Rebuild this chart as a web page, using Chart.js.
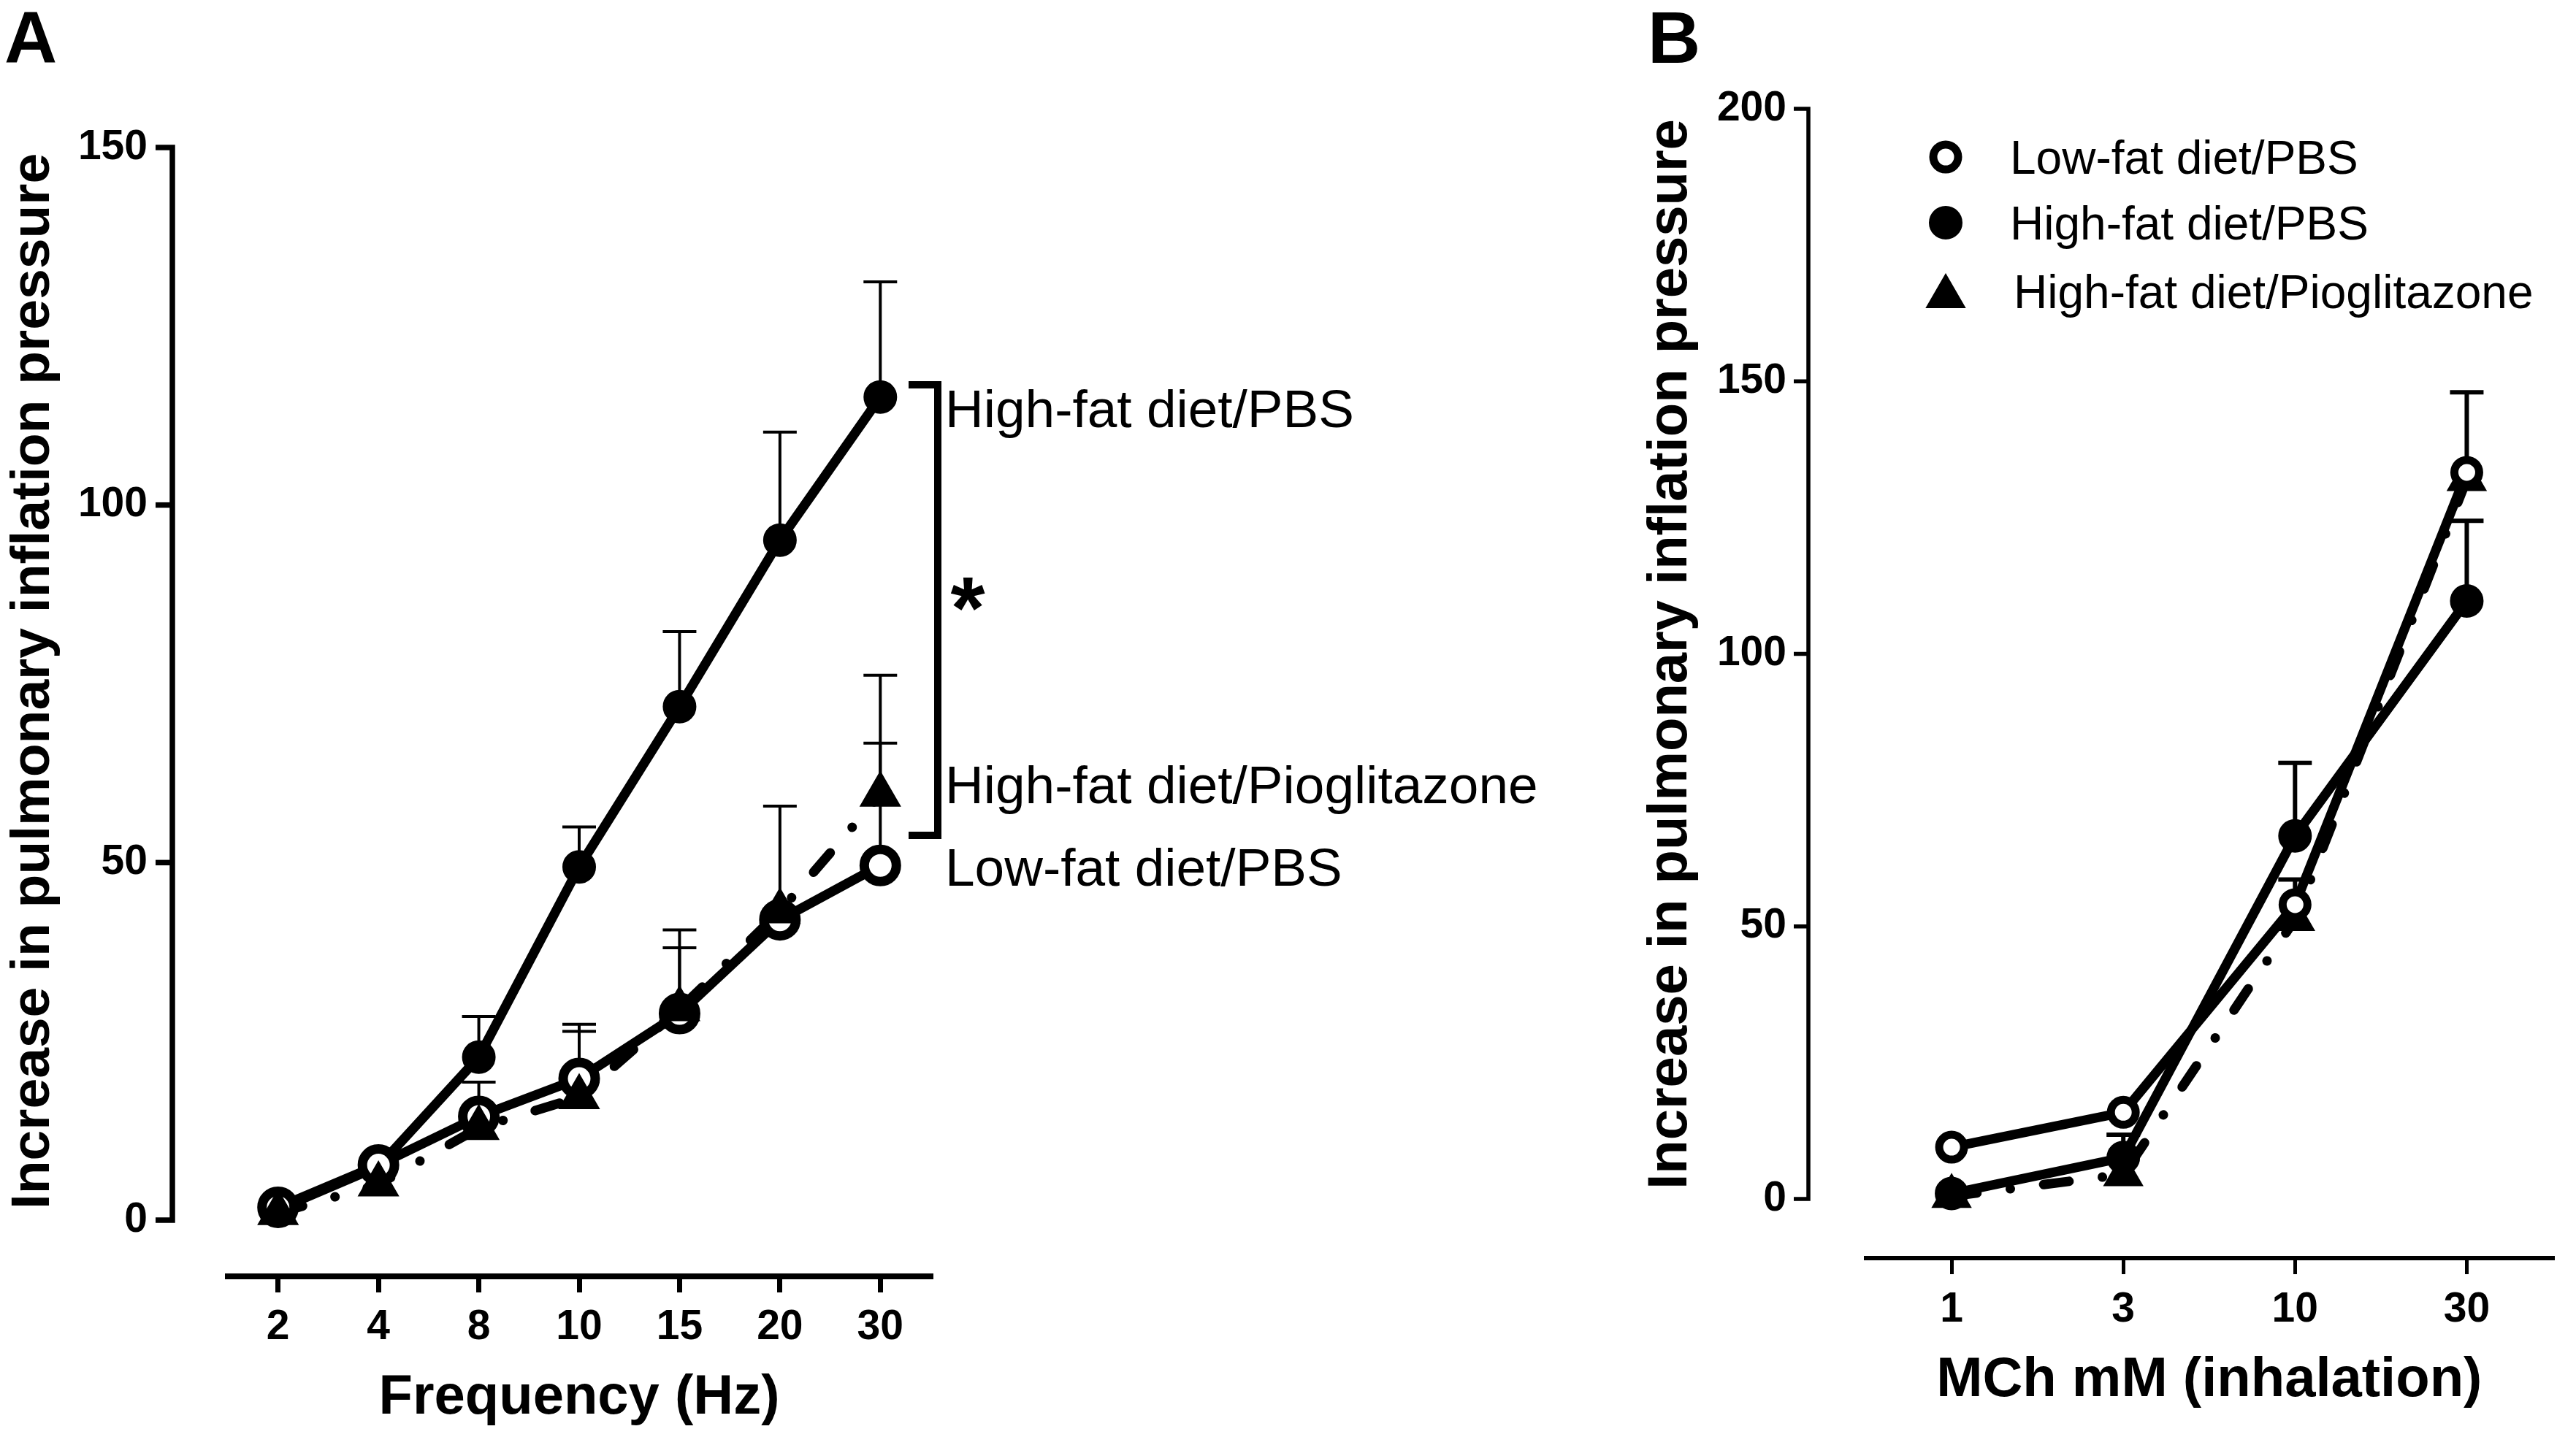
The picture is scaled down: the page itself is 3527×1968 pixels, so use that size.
<!DOCTYPE html>
<html><head><meta charset="utf-8">
<script src="https://cdn.jsdelivr.net/npm/chart.js@4/dist/chart.umd.min.js"></script>
<style>
html,body{margin:0;padding:0;background:#fff;width:3527px;height:1968px;overflow:hidden}
#ca{position:absolute;left:0;top:0}
#cb{position:absolute;left:2150px;top:0}
</style></head><body>
<canvas id="ca" width="2150" height="1968"></canvas>
<canvas id="cb" width="1377" height="1968"></canvas>
<script>
// ---------- DATA ----------
// Panel A: frequency response
const freqLabels = ['2', '4', '8', '10', '15', '20', '30'];
const aLowFat    = [1.8, 7.7, 14.5, 19.8, 28.9, 42.0, 49.6];
const aHighFat   = [1.5, 7.5, 22.8, 49.4, 71.8, 95.1, 115.1];
const aPio       = [1.0, 5.0, 12.9, 17.2, 29.5, 43.2, 59.5];
const aLowFatSem  = [null, null, 4.8, 7.6, 11.7, 15.9, 17.1];
const aHighFatSem = [null, null, 5.7, 5.6, 10.5, 15.1, 16.1];
const aPioSem     = [null, null, null, 9.2, 8.6, null, 16.7];
const aYTicks = [0, 50, 100, 150];

// Panel B: methacholine response
const mchLabels = ['1', '3', '10', '30'];
const bLowFat    = [9.5, 15.9, 54.0, 133.3];
const bHighFat   = [1.0, 7.6, 66.6, 109.7];
const bPio       = [0.5, 4.5, 51.3, 132.0];
const bLowFatSem  = [null, null, 4.6, 14.7];
const bHighFatSem = [null, 4.2, 13.4, 14.7];
const bPioSem     = [null, null, null, null];
const bYTicks = [0, 50, 100, 150, 200];

const seriesNames = ['Low-fat diet/PBS', 'High-fat diet/PBS', 'High-fat diet/Pioglitazone'];
const yTitle = 'Increase in pulmonary inflation pressure';

// ---------- STYLE ----------
Chart.defaults.font.family = "'Liberation Sans', Arial, Helvetica, sans-serif";
Chart.defaults.color = '#000';
const BLACK = '#000';
const FONT = "'Liberation Sans', Arial, Helvetica, sans-serif";
const DASHDOT = [35, 46, 0.1, 46];

function lineSet(label, data, dash, order, lw) {
  return { label, data, showLine: true, borderColor: BLACK, borderWidth: lw,
    borderDash: dash, borderCapStyle: 'round', borderJoinStyle: 'round',
    pointRadius: 0, pointHoverRadius: 0, tension: 0, fill: false, order, clip: false };
}
function pointSet(label, data, st, order) {
  return { label, data, showLine: false, pointStyle: st.shape, pointRadius: st.r,
    pointHoverRadius: st.r, pointBorderWidth: st.bw, pointHoverBorderWidth: st.bw,
    pointBackgroundColor: st.fill, pointBorderColor: BLACK, order, clip: false };
}

function makePlugin(cfg) {
  return {
    id: 'gp' + cfg.name,
    beforeDatasetsDraw(chart) {
      const xs = chart.scales.x, ys = chart.scales.y, ctx = chart.ctx;
      ctx.save();
      ctx.strokeStyle = BLACK; ctx.lineWidth = cfg.errWidth; ctx.lineCap = 'butt';
      cfg.errors.forEach(([mean, sem]) => {
        mean.forEach((m, i) => {
          const e = sem[i]; if (e == null) return;
          const px = xs.getPixelForValue(i);
          const y1 = ys.getPixelForValue(m), y2 = ys.getPixelForValue(m + e);
          ctx.beginPath();
          ctx.moveTo(px, y1); ctx.lineTo(px, y2);
          ctx.moveTo(px - cfg.cap / 2, y2); ctx.lineTo(px + cfg.cap / 2, y2);
          ctx.stroke();
        });
      });
      ctx.restore();
    },
    afterDraw(chart) {
      const ys = chart.scales.y, ctx = chart.ctx;
      ctx.save();
      // y axis (GraphPad style, detached from x axis)
      ctx.strokeStyle = BLACK; ctx.lineWidth = cfg.axisWidth; ctx.lineJoin = 'miter'; ctx.lineCap = 'butt';
      const tks = cfg.yTicks;
      const yTop = ys.getPixelForValue(tks[tks.length - 1]);
      const yBot = ys.getPixelForValue(tks[0]);
      ctx.beginPath();
      ctx.moveTo(cfg.axisX - cfg.tickLen, yTop);
      ctx.lineTo(cfg.axisX, yTop);
      ctx.lineTo(cfg.axisX, yBot);
      ctx.lineTo(cfg.axisX - cfg.tickLen, yBot);
      ctx.stroke();
      tks.slice(1, -1).forEach(v => {
        const py = ys.getPixelForValue(v);
        ctx.beginPath(); ctx.moveTo(cfg.axisX - cfg.tickLen, py); ctx.lineTo(cfg.axisX, py); ctx.stroke();
      });
      // y title
      ctx.fillStyle = BLACK;
      ctx.font = 'bold ' + cfg.yTitleSize + 'px ' + FONT;
      ctx.textAlign = 'center'; ctx.textBaseline = 'alphabetic';
      ctx.translate(cfg.yTitleX, cfg.yTitleY);
      ctx.rotate(-Math.PI / 2);
      ctx.fillText(yTitle, 0, 0);
      ctx.restore();
      // panel letter
      ctx.save();
      ctx.fillStyle = BLACK;
      ctx.font = 'bold 100px ' + FONT;
      ctx.textAlign = 'left'; ctx.textBaseline = 'alphabetic';
      ctx.fillText(cfg.letter, cfg.letterX, 86);
      ctx.restore();
      if (cfg.extra) cfg.extra(chart, ctx);
    }
  };
}

function buildChart(canvas, cfg) {
  const [lf, hf, pio] = cfg.series;
  const o = cfg.order; // drawing order of markers: lower = on top
  return new Chart(canvas, {
    type: 'line',
    data: {
      labels: cfg.labels,
      datasets: [
        pointSet(seriesNames[0], lf, cfg.mk.lf, o.lf),
        pointSet(seriesNames[1], hf, cfg.mk.hf, o.hf),
        pointSet(seriesNames[2], pio, cfg.mk.pio, o.pio),
        lineSet(seriesNames[2], pio, DASHDOT, 3, cfg.lineWidth),
        lineSet(seriesNames[1], hf, [], 4, cfg.lineWidth),
        lineSet(seriesNames[0], lf, [], 5, cfg.lineWidth)
      ]
    },
    options: {
      responsive: false, animation: false, devicePixelRatio: 1,
      events: [],
      layout: { padding: cfg.padding },
      plugins: { legend: { display: false }, tooltip: { enabled: false } },
      scales: {
        x: {
          type: 'category', offset: true,
          afterFit: s => { s.height = cfg.xHeight; },
          grid: { display: true, drawOnChartArea: false, drawTicks: true, tickLength: 22,
                  lineWidth: cfg.xTickWidth, color: BLACK, offset: false },
          border: { display: true, width: cfg.xAxisWidth, color: BLACK },
          ticks: { font: { weight: 'bold', size: 57 }, color: BLACK, padding: cfg.xTickPad,
                   maxRotation: 0, autoSkip: false },
          title: { display: true, text: cfg.xTitle, color: BLACK,
                   font: { weight: 'bold', size: 76, lineHeight: 1 },
                   padding: { top: 0, bottom: cfg.xTitlePad } }
        },
        y: {
          type: 'linear', min: cfg.yMin, max: cfg.yTicks[cfg.yTicks.length - 1],
          afterFit: s => { s.width = cfg.yWidth; },
          afterBuildTicks: s => { s.ticks = cfg.yTicks.map(v => ({ value: v })); },
          grid: { display: false, drawTicks: false },
          border: { display: false },
          ticks: { font: { weight: 'bold', size: 57 }, color: BLACK, padding: cfg.yTickPad }
        }
      }
    },
    plugins: [makePlugin(cfg)]
  });
}

// ---------- PANEL A ----------
buildChart(document.getElementById('ca'), {
  name: 'A', letter: 'A', letterX: 6,
  labels: freqLabels, series: [aLowFat, aHighFat, aPio],
  errors: [[aLowFat, aLowFatSem], [aHighFat, aHighFatSem], [aPio, aPioSem]],
  order: { pio: 0, lf: 1, hf: 2 },
  yTicks: aYTicks, yMin: -7.86,
  padding: { left: 0, top: 202, right: 876, bottom: 0 },
  xHeight: 220, yWidth: 312, yTickPad: 110, xTickPad: 14, xTitlePad: 15,
  xTitle: 'Frequency (Hz)', xAxisWidth: 8, xTickWidth: 7,
  axisX: 236, axisWidth: 7.5, tickLen: 23,
  yTitleX: 67, yTitleY: 933, yTitleSize: 75,
  lineWidth: 13, errWidth: 4, cap: 46,
  mk: {
    lf:  { shape: 'circle', r: 22, bw: 13, fill: '#fff' },
    hf:  { shape: 'circle', r: 20, bw: 6, fill: BLACK },
    pio: { shape: 'triangle', r: 29, bw: 4, fill: BLACK }
  },
  extra(chart, ctx) {
    ctx.save();
    // significance bracket
    ctx.strokeStyle = BLACK; ctx.lineWidth = 10; ctx.lineJoin = 'miter'; ctx.lineCap = 'butt';
    ctx.beginPath();
    ctx.moveTo(1244, 527); ctx.lineTo(1284, 527); ctx.lineTo(1284, 1144); ctx.lineTo(1244, 1144);
    ctx.stroke();
    // asterisk, sized to the reference glyph height
    ctx.fillStyle = BLACK;
    ctx.font = 'bold 100px ' + FONT;
    let m = ctx.measureText('*');
    const h = m.actualBoundingBoxAscent + m.actualBoundingBoxDescent;
    const size = 100 * 46 / h;
    ctx.font = 'bold ' + size + 'px ' + FONT;
    m = ctx.measureText('*');
    const gx = 1325 - (m.actualBoundingBoxRight - m.actualBoundingBoxLeft) / 2 + m.actualBoundingBoxLeft;
    const gy = 813 + (m.actualBoundingBoxAscent - m.actualBoundingBoxDescent) / 2;
    ctx.textAlign = 'left'; ctx.textBaseline = 'alphabetic';
    ctx.fillText('*', gx, gy);
    // group labels
    ctx.font = '73px ' + FONT;
    ctx.fillText(seriesNames[1], 1294, 585);
    ctx.fillText(seriesNames[2], 1294, 1100);
    ctx.fillText(seriesNames[0], 1294, 1213);
    ctx.restore();
  }
});

// ---------- PANEL B ----------
const mkB = {
  lf:  { shape: 'circle', r: 17, bw: 11, fill: '#fff' },
  hf:  { shape: 'circle', r: 20, bw: 6, fill: BLACK },
  pio: { shape: 'triangle', r: 28, bw: 4, fill: BLACK }
};
buildChart(document.getElementById('cb'), {
  name: 'B', letter: 'B', letterX: 2256 - 2150,
  labels: mchLabels, series: [bLowFat, bHighFat, bPio],
  errors: [[bLowFat, bLowFatSem], [bHighFat, bHighFatSem], [bPio, bPioSem]],
  order: { hf: 0, lf: 1, pio: 2 },
  yTicks: bYTicks, yMin: -10.85,
  padding: { left: 0, top: 149, right: 1.5, bottom: 0 },
  xHeight: 245, yWidth: 404.5, yTickPad: 108.5, xTickPad: 15, xTitlePad: 39,
  xTitle: 'MCh mM (inhalation)', xAxisWidth: 6, xTickWidth: 5,
  axisX: 2476 - 2150, axisWidth: 5.5, tickLen: 20,
  yTitleX: 2309 - 2150, yTitleY: 896, yTitleSize: 76,
  lineWidth: 13, errWidth: 6, cap: 46,
  mk: mkB,
  extra(chart, ctx) {
    ctx.save();
    const items = [
      [mkB.lf, seriesNames[0], 215, 238, 2752],
      [mkB.hf, seriesNames[1], 305, 328, 2752],
      [mkB.pio, seriesNames[2], 406, 422, 2757]
    ];
    ctx.strokeStyle = BLACK;
    items.forEach(([st, txt, my, by, tx]) => {
      ctx.fillStyle = st.fill; ctx.lineWidth = st.bw;
      Chart.helpers.drawPoint(ctx, { pointStyle: st.shape, radius: st.r, borderWidth: st.bw, rotation: 0 }, 2664 - 2150, my);
      ctx.fillStyle = BLACK;
      ctx.font = '64px ' + FONT;
      ctx.textAlign = 'left'; ctx.textBaseline = 'alphabetic';
      ctx.fillText(txt, tx - 2150, by);
    });
    ctx.restore();
  }
});
</script>
</body></html>
